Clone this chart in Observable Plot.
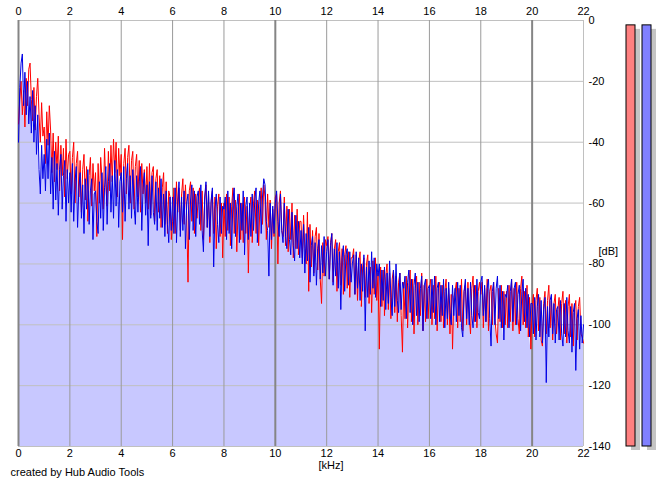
<!DOCTYPE html>
<html>
<head>
<meta charset="utf-8">
<script src="https://cdn.jsdelivr.net/npm/d3@7"></script>
<script src="https://cdn.jsdelivr.net/npm/@observablehq/plot@0.6"></script>
<style>
  html, body { margin: 0; padding: 0; background: white; }
  #wrap { position: relative; width: 665px; height: 487px; overflow: hidden; }
  #meter { position: absolute; left: 620px; top: 0; }
</style>
</head>
<body>
<div id="wrap"><div id="main"></div><div id="meter"></div></div>
<script>
// frequency bin spacing (kHz)
const binStep = 0.05;
// tick values
const xTicks = [0, 2, 4, 6, 8, 10, 12, 14, 16, 18, 20, 22];
const xMajor = [0, 10, 20];
const yTicks = [0, -20, -40, -60, -80, -100, -120, -140];
// left channel (red), dB, one row per kHz (20 bins each), last value at 22 kHz
const red = [
  -34,-26,-20,-31,-23,-35,-19,-28,-16,-14,-26,-33,-22,-36,-25,-19,-31,-40,-27,-38,
  -35,-47,-30,-41,-28,-36,-50,-37,-53,-40,-49,-38,-56,-41,-51,-42,-58,-39,-52,-44,
  -43,-57,-45,-40,-60,-47,-43,-58,-46,-63,-49,-44,-59,-48,-66,-51,-45,-61,-47,-56,
  -50,-71,-47,-60,-45,-52,-62,-42,-54,-61,-43,-56,-41,-53,-39,-50,-40,-58,-42,-51,
  -44,-72,-47,-42,-57,-45,-41,-60,-46,-43,-62,-48,-44,-58,-46,-63,-47,-57,-49,-60,
  -48,-62,-47,-64,-50,-48,-66,-52,-49,-63,-51,-68,-55,-50,-67,-53,-70,-56,-58,-72,
  -66,-55,-70,-53,-63,-55,-69,-57,-52,-67,-54,-64,-86,-56,-53,-66,-55,-70,-57,-65,
  -58,-55,-69,-56,-72,-59,-54,-68,-57,-73,-60,-56,-70,-58,-75,-61,-57,-71,-60,-78,
  -60,-71,-57,-69,-58,-74,-61,-55,-70,-59,-76,-62,-57,-72,-60,-73,-58,-70,-61,-83,
  -62,-58,-73,-60,-56,-70,-59,-74,-61,-55,-67,-54,-58,-72,-57,-68,-59,-75,-62,-71,
  -58,-57,-80,-60,-56,-69,-71,-58,-74,-61,-76,-62,-72,-60,-78,-64,-75,-62,-77,-66,
  -66,-78,-64,-75,-80,-63,-89,-67,-81,-69,-83,-71,-68,-82,-70,-85,-93,-73,-84,-72,
  -74,-71,-85,-73,-70,-86,-75,-72,-89,-76,-73,-87,-75,-90,-77,-74,-88,-76,-91,-78,
  -78,-75,-90,-77,-92,-79,-76,-94,-81,-78,-91,-80,-77,-93,-81,-96,-79,-90,-78,-92,
  -83,-108,-81,-94,-82,-97,-84,-80,-95,-83,-98,-85,-82,-96,-84,-99,-86,-83,-97,-109,
  -86,-98,-84,-101,-87,-82,-99,-85,-103,-88,-84,-100,-86,-97,-83,-102,-87,-99,-85,-98,
  -88,-85,-100,-87,-98,-84,-102,-88,-86,-99,-87,-101,-89,-85,-100,-88,-103,-90,-108,-91,
  -89,-86,-101,-88,-99,-85,-102,-89,-87,-100,-86,-98,-103,-88,-84,-99,-87,-101,-89,-86,
  -90,-86,-101,-88,-99,-85,-102,-89,-87,-100,-86,-98,-103,-106,-88,-99,-87,-101,-89,-100,
  -89,-101,-87,-99,-85,-102,-88,-100,-86,-98,-103,-88,-84,-100,-89,-101,-87,-104,-91,-108,
  -94,-90,-104,-92,-88,-102,-91,-105,-107,-93,-89,-103,-92,-87,-101,-91,-105,-93,-90,-103,
  -95,-91,-105,-93,-89,-103,-92,-106,-94,-90,-104,-93,-107,-95,-92,-105,-94,-91,-103,-104,
  -106
];
// right channel (blue), dB
const blue = [
  -40,-22,-14,-11,-28,-17,-31,-20,-34,-25,-37,-23,-40,-28,-44,-31,-49,-57,-41,-52,
  -44,-56,-39,-52,-37,-57,-45,-62,-43,-59,-47,-64,-49,-44,-62,-51,-46,-66,-49,-60,
  -50,-63,-47,-66,-53,-48,-68,-55,-50,-65,-54,-70,-52,-62,-49,-67,-56,-52,-72,-57,
  -56,-66,-70,-53,-65,-50,-69,-55,-48,-67,-53,-47,-63,-51,-65,-46,-61,-49,-68,-53,
  -50,-63,-48,-66,-52,-47,-62,-51,-65,-49,-61,-67,-51,-63,-53,-48,-69,-55,-50,-64,
  -54,-74,-53,-65,-51,-63,-67,-53,-69,-55,-65,-52,-68,-57,-71,-56,-67,-73,-58,-69,
  -58,-70,-55,-73,-60,-53,-71,-58,-69,-56,-75,-60,-57,-72,-59,-54,-69,-56,-71,-58,
  -56,-67,-54,-69,-76,-58,-53,-68,-56,-71,-59,-55,-81,-62,-57,-67,-73,-58,-70,-61,
  -62,-58,-72,-56,-70,-60,-75,-59,-55,-71,-61,-57,-73,-60,-69,-56,-77,-61,-58,-72,
  -60,-71,-57,-69,-59,-55,-73,-60,-56,-70,-58,-52,-54,-66,-69,-84,-60,-72,-61,-70,
  -60,-56,-66,-71,-57,-69,-73,-60,-71,-75,-62,-72,-77,-63,-74,-79,-64,-75,-66,-78,
  -69,-80,-67,-83,-70,-79,-68,-86,-74,-71,-84,-73,-87,-75,-72,-85,-74,-83,-71,-84,
  -76,-72,-85,-74,-70,-87,-75,-84,-73,-88,-76,-95,-78,-74,-89,-77,-75,-87,-76,-86,
  -80,-77,-90,-76,-88,-78,-92,-80,-89,-77,-102,-81,-91,-79,-90,-76,-88,-78,-91,-80,
  -84,-80,-94,-82,-92,-81,-95,-83,-93,-79,-91,-97,-82,-94,-80,-92,-96,-83,-95,-86,
  -88,-84,-98,-86,-82,-96,-85,-100,-87,-83,-97,-86,-99,-88,-84,-102,-87,-85,-98,-88,
  -87,-98,-85,-96,-84,-100,-88,-86,-99,-87,-97,-85,-101,-88,-98,-86,-96,-100,-87,-97,
  -88,-99,-86,-97,-87,-101,-104,-89,-85,-98,-88,-100,-86,-97,-101,-87,-99,-85,-96,-98,
  -86,-84,-97,-87,-99,-88,-85,-98,-107,-89,-86,-100,-88,-84,-98,-87,-101,-89,-105,-90,
  -91,-87,-101,-89,-85,-99,-88,-86,-100,-90,-87,-102,-89,-85,-99,-88,-101,-90,-104,-93,
  -93,-103,-91,-105,-94,-90,-104,-92,-106,-95,-91,-119,-94,-104,-92,-90,-103,-93,-106,-95,
  -94,-105,-92,-103,-107,-93,-104,-91,-102,-106,-94,-109,-96,-93,-115,-98,-95,-108,-97,-106,
  -100
];
// level meters
const meterChannels = ["L", "R"];
const meterLevels = [-1.6, -1.6];
const meterColors = ["#ff8080", "#8080ff"];

const spec = red.map((r, i) => ({ f: +(i * binStep).toFixed(2), r, b: blue[i] }));
const font = "'Liberation Sans', Arial, sans-serif";

const main = Plot.plot({
  width: 665, height: 487,
  marginLeft: 18, marginRight: 82, marginTop: 20, marginBottom: 41,
  x: { domain: [0, 22] },
  y: { domain: [-140, 0] },
  style: { fontFamily: font, fontSize: "11px", background: "white", color: "black" },
  marks: [
    Plot.areaY(spec, { x: "f", y1: -140, y2: d => Math.min(d.r, d.b), fill: "#c8c8ff" }),
    Plot.ruleY(yTicks, { stroke: "#c0c0c0", strokeWidth: 1 }),
    Plot.ruleX(xTicks.filter(t => !xMajor.includes(t) && t !== 22), { stroke: "#9a9a9a", strokeWidth: 1 }),
    Plot.ruleX([22], { stroke: "#c0c0c0", strokeWidth: 1 }),
    Plot.ruleX(xMajor, { stroke: "#858585", strokeWidth: 2 }),
    Plot.lineY(spec, { x: "f", y: "r", stroke: "#ff0000", strokeWidth: 1 }),
    Plot.lineY(spec, { x: "f", y: "b", stroke: "#0000e6", strokeWidth: 1 }),
    Plot.axisX({ anchor: "top", ticks: xTicks, tickSize: 0, tickPadding: 6, label: null, tickFormat: d => String(d) }),
    Plot.axisX({ anchor: "bottom", ticks: xTicks, tickSize: 0, tickPadding: 3, label: null, tickFormat: d => String(d) }),
    Plot.axisY({ anchor: "right", ticks: yTicks, tickSize: 0, tickPadding: 5, label: null, tickFormat: d => String(d) }),
    Plot.text(["[kHz]"], { frameAnchor: "bottom", text: d => d, dx: 30, dy: 22 }),
    Plot.text(["[dB]"], { frameAnchor: "right", text: d => d, textAnchor: "start", dx: 15, dy: 18 }),
    Plot.text(["created by Hub Audio Tools"], { frameAnchor: "bottom-left", text: d => d, textAnchor: "start", dx: -8, dy: 29 })
  ]
});
document.getElementById("main").appendChild(main);

const meterData = meterChannels.map((c, i) => ({ c, v: meterLevels[i], fill: meterColors[i] }));
const meter = Plot.plot({
  width: 45, height: 487,
  marginLeft: 0, marginRight: 0, marginTop: 20, marginBottom: 41,
  x: { type: "band", domain: meterChannels, range: [5.7, 30.7], paddingInner: 0.4375, paddingOuter: 0, axis: null },
  y: { domain: [-140, 0], axis: null },
  style: { background: "transparent" },
  marks: [
    Plot.barY(meterData, { x: "c", y1: -140, y2: "v", fill: "#c4c4c4", dx: 5, dy: 4, insetLeft: 0, insetRight: 0 }),
    Plot.barY(meterData, { x: "c", y1: -140, y2: "v", fill: d => d.fill, stroke: "black", strokeWidth: 1, insetLeft: 0, insetRight: 0 })
  ]
});
document.getElementById("meter").appendChild(meter);
</script>
</body>
</html>
